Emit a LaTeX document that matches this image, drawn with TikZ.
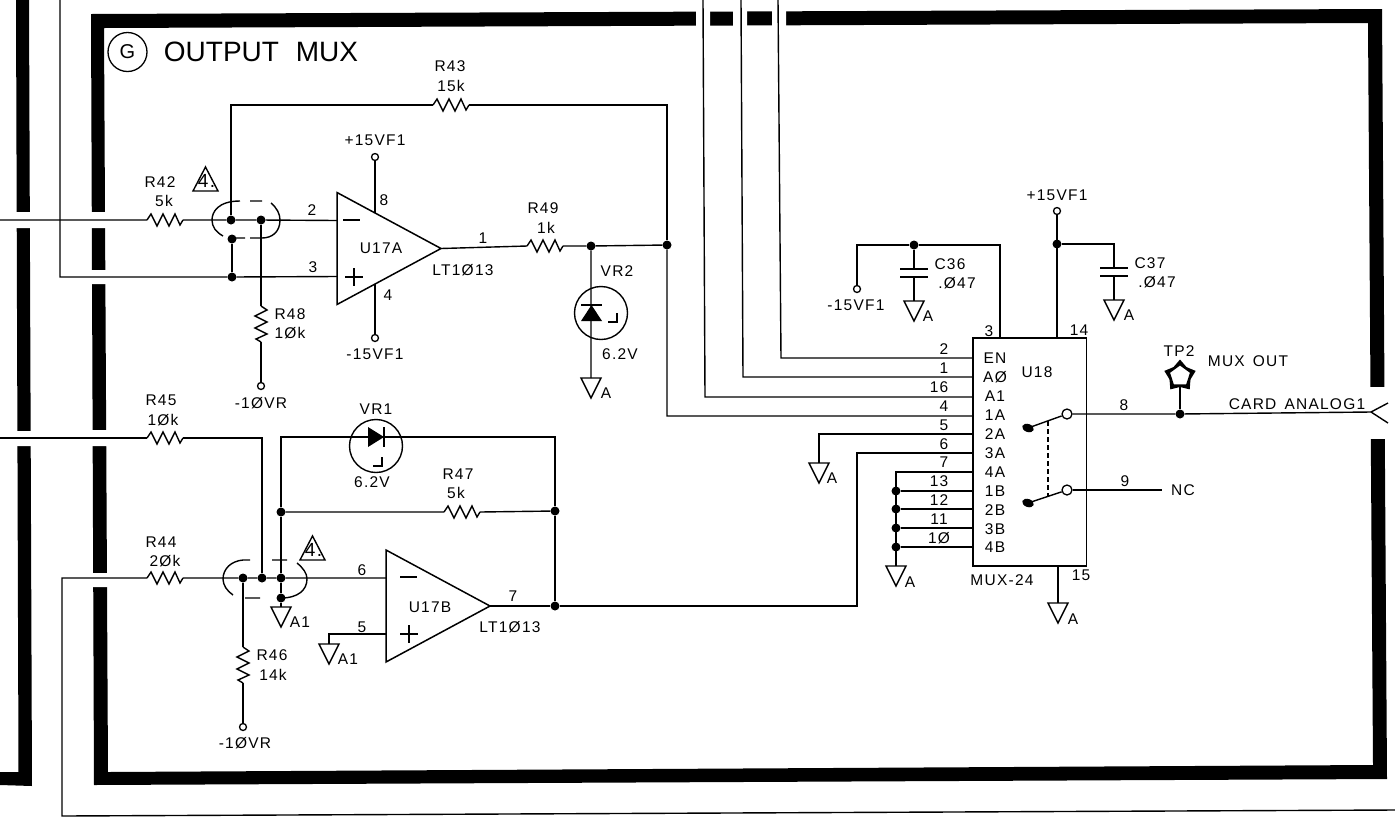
\documentclass[tikz,border=0pt]{standalone}
\usepackage{fontspec}
\setmainfont[LetterSpace=8]{Liberation Sans}
\newfontfamily\titlefont{Liberation Sans}
\usetikzlibrary{shapes.geometric}
\tikzset{
  wire/.style={line width=1.4pt,line join=miter},
  bar/.style={fill=black,draw=none},
  gap/.style={fill=white,draw=none},
  lbl/.style={inner sep=0pt,font=\fontsize{15.5}{17}\selectfont},
  dot/.style={circle,fill=black,draw=none,inner sep=0pt,minimum size=9pt},
  term/.style={circle,draw,line width=1.3pt,fill=white,inner sep=0pt,minimum size=7pt},
  zener/.style={circle,draw,line width=1.4pt,inner sep=0pt,minimum size=53pt},
  pics/res/.style={code={
    \draw[wire] (0,0) -- (4,-6) -- (10,6) -- (16,-6) -- (22,6) -- (28,-6) -- (33,5) -- (36,0);
    \coordinate (-l) at (0,0);
    \coordinate (-r) at (36,0);
  }},
  pics/gnd/.style={code={
    \draw[wire] (-10,0) -- (10,0) -- (0,20) -- cycle;
    \coordinate (-top) at (0,0);
  }},
  pics/opamp/.style={code={
    \draw[line width=1.5pt,line join=miter] (0,-56) -- (0,56) -- (104,0) -- cycle;
    \coordinate (-minus) at (0,-28);
    \coordinate (-plus) at (0,28);
    \coordinate (-out) at (104,0);
    \coordinate (-vp) at (38,-35.5);
    \coordinate (-vn) at (38,35.5);
  }},
  pics/note/.style={code={
    \draw[wire] (-12.5,24) -- (0,0) -- (12.5,24) -- cycle;
    \draw (1,14) node[inner sep=0pt,font=\fontsize{19}{20}\selectfont] (-num) {4.};
  }},
  pics/cap/.style={code={
    \draw[line width=1.8pt] (-14,0) -- (14,0) (-14,8) -- (14,8);
    \coordinate (-a) at (0,0);
    \coordinate (-b) at (0,8);
  }}
}
\begin{document}
\begin{tikzpicture}[x=1pt,y=-1pt]
\useasboundingbox (0,0) rectangle (1395,823);
\fill[bar] (16,0) -- (29,0) -- (32,786) -- (0,785) -- (0,772) -- (18.5,772) -- cycle;
\fill[bar,even odd rule] (91,14) -- (1382,9) -- (1387,779) -- (94,785) -- cycle (104,28) -- (1368,23) -- (1373,765) -- (108,772) -- cycle;
\fill[gap] (10,212) rectangle (36,228) (10,431) rectangle (36,446);
\fill[gap] (86,212) rectangle (112,228) (86,270) rectangle (112,284) (86,430) rectangle (112,446) (86,573) rectangle (112,587);
\fill[gap] (696,4) rectangle (710,34) (733,4) rectangle (747,34) (772,4) rectangle (786,34);
\fill[gap] (1362,387) rectangle (1392,439);
\draw (127.5,52) node[circle,draw,line width=1.3pt,inner sep=0pt,minimum size=39pt,font=\fontsize{20}{22}\selectfont] (tagG) {G};
\draw (261,52) node[inner sep=0pt,font=\titlefont\fontsize{28}{31}\selectfont] (title) {OUTPUT\hspace{9pt} MUX};
\coordinate (inA) at (0,220);
\coordinate (inB) at (0,438);
\coordinate (inC) at (60,0);
\coordinate (inCb) at (60,277);
\coordinate (fbD) at (62,816);
\coordinate (fbE) at (1395,810);
\pic (R42) at (147,220) {res};
\pic (R43) at (433,105) {res};
\pic (R49) at (527,246) {res};
\pic (R45) at (147,438) {res};
\pic (R44) at (147,578) {res};
\pic (R47) at (444,512) {res};
\pic[rotate=-90] (R48) at (261,306) {res};
\pic[rotate=-90] (R46) at (243,647) {res};
\pic (U17A) at (337,248.5) {opamp};
\pic (U17B) at (386,606) {opamp};
\draw[wire] (343,220) -- (360,220) (345,277) -- (363,277) (354,268) -- (354,286);
\draw[wire] (400,577) -- (417,577) (400,634) -- (418,634) (409,625) -- (409,643);
\pic (N1) at (205.5,167) {note};
\pic (N2) at (312.5,536) {note};
\node[dot] (J1) at (231,220) {};
\node[dot] (J2) at (261,220) {};
\node[dot] (J3) at (232,239) {};
\node[dot] (J4) at (232,277) {};
\node[dot] (J5) at (667,245) {};
\node[dot] (J6) at (591,246) {};
\node[dot] (J7) at (243,578) {};
\node[dot] (J8) at (262,578) {};
\node[dot] (J9) at (281,578) {};
\node[dot] (J10) at (281,598) {};
\node[dot] (J11) at (281,512) {};
\node[dot] (J12) at (555,511) {};
\node[dot] (J13) at (555,606) {};
\node[term] (VpA) at (375,157) {};
\node[term] (VnA) at (375,338) {};
\node[term] (VrA) at (261,386) {};
\node[term] (VrB) at (243,727) {};
\pic (G1) at (591,378) {gnd};
\pic (G2) at (281,607) {gnd};
\pic (G3) at (329,644) {gnd};
\draw[wire] (inC) -- (inCb) -- (J4) -- (U17A-plus);
\draw[wire] (inA) -- (R42-l) (R42-r) -- (J1) -- (J2) -- (U17A-minus);
\draw[wire] (J4) -- (J3) (J1) |- (R43-l) (R43-r) -| (J5);
\draw[wire] (U17A-vp) -- (VpA) (U17A-vn) -- (VnA);
\draw[wire] (J2) -- (R48-l) (R48-r) -- (VrA);
\draw[wire] (U17A-out) -- (R49-l) (R49-r) -- (J6) -- (J5) (J6) -- (G1-top);
\draw[wire] (240,201) .. controls (218,201) and (212,212) .. (212,220) .. controls (212,227) and (216,232) .. (223,236) (245,238) -- (232,238) (250,201) -- (262,201) (271,203) .. controls (277,208) and (280,214) .. (280,220) .. controls (280,232) and (272,238) .. (262,238) -- (250,238);
\draw[wire] (inB) -- (R45-l) (R45-r) -| (J8);
\coordinate (VRa) at (281,437);
\coordinate (VRb) at (555,437);
\draw[wire] (J9) -- (J11) -- (VRa) -- (VRb) -- (J12) -- (J13);
\draw[wire] (J11) -- (R47-l) (R47-r) -- (J12);
\draw[wire] (fbE) -- (fbD) |- (R44-l) (R44-r) -- (J7) -- (J8) -- (J9) -- (U17B-minus);
\draw[wire] (J7) -- (R46-l) (R46-r) -- (VrB) (J9) -- (J10) -- (G2-top);
\draw[wire] (U17B-plus) -| (G3-top);
\draw[wire] (U17B-out) -- (J13);
\draw[wire] (250,560) -- (243,560) .. controls (231,561) and (223,569) .. (223,579) .. controls (223,585) and (227,591) .. (233,595) (245,598) -- (260,598) (272,560) -- (287,560) (297,563) .. controls (303,568) and (307,573) .. (307,579) .. controls (307,590) and (298,598) .. (281,598);
\node[zener] (VR2) at (601,313) {};
\fill (591.5,305) -- (602,321) -- (581,321) -- cycle;
\draw[line width=1.8pt] (581,305) -- (602,305);
\draw[wire] (617,313) -- (617,322) -- (608,322);
\node[zener] (VR1) at (376,446) {};
\fill (384,437) -- (368,427) -- (368,447) -- cycle;
\draw[line width=1.8pt] (384,427) -- (384,447);
\draw[wire] (382,457) -- (382,466) -- (373,466);
\node[draw,line width=1.4pt,minimum width=113.5pt,minimum height=228pt,inner sep=0pt] (U18) at (1029.7,452) {};
\pic (GA) at (819,463) {gnd};
\pic (GB) at (896,566) {gnd};
\pic (GC) at (914,301) {gnd};
\pic (GD) at (1114,300) {gnd};
\pic (GE) at (1058,603) {gnd};
\pic (C36) at (914,269) {cap};
\pic (C37) at (1114,268) {cap};
\node[term] (Vn36) at (857,289) {};
\node[term] (Vp37) at (1057,211) {};
\node[dot] (J14) at (914,245) {};
\node[dot] (J15) at (1057,244) {};
\node[dot] (J16) at (896,491) {};
\node[dot] (J17) at (896,509) {};
\node[dot] (J18) at (896,528) {};
\node[dot] (J19) at (896,547) {};
\coordinate (En) at (973,358);
\coordinate (Az) at (973,377);
\coordinate (Ao) at (973,397);
\coordinate (Aa) at (973,416);
\coordinate (Ba) at (973,434);
\coordinate (Ca) at (973,453);
\coordinate (Da) at (973,472);
\coordinate (Eb) at (973,491);
\coordinate (Fb) at (973,509);
\coordinate (Gb) at (973,528);
\coordinate (Hb) at (973,547);
\coordinate (EnT) at (778,0);
\coordinate (AzT) at (741,0);
\coordinate (AoT) at (703,0);
\coordinate (EnC) at (781,358);
\coordinate (AzC) at (743,377);
\coordinate (AoC) at (705,397);
\coordinate (P3) at (1000,338);
\coordinate (P14) at (1057,338);
\coordinate (P15) at (1058,566);
\coordinate (CaC) at (857,453);
\draw[wire] (EnT) -- (EnC) -- (En) (AzT) -- (AzC) -- (Az) (AoT) -- (AoC) -- (Ao) (J5) |- (Aa);
\draw[wire] (Ba) -| (GA-top);
\draw[wire] (J13) -| (CaC) -- (Ca);
\draw[wire] (Da) -| (GB-top) (J16) -- (Eb) (J17) -- (Fb) (J18) -- (Gb) (J19) -- (Hb);
\draw[wire] (Vn36) |- (J14) -| (P3);
\draw[wire] (J14) -- (C36-a) (C36-b) -- (GC-top);
\draw[wire] (Vp37) -- (P14) (J15) -| (C37-a) (C37-b) -- (GD-top);
\draw[wire] (P15) -- (GE-top);
\node[term,minimum size=10pt] (SwA) at (1067,414) {};
\node[term,minimum size=10pt] (SwB) at (1067,490) {};
\node[dot] (J20) at (1180,414) {};
\coordinate (ArmA) at (1028,428);
\coordinate (ArmB) at (1028,503);
\coordinate (Tip) at (1371,412);
\coordinate (TipU) at (1388,403);
\coordinate (TipD) at (1388,423);
\coordinate (NCend) at (1162,490);
\coordinate (Lnk1) at (1048,421);
\coordinate (Lnk2) at (1048,497);
\node[star,star points=5,star point ratio=1.5,fill=black,draw=none,inner sep=0pt,minimum size=33pt] (TP2) at (1180,376) {};
\node[regular polygon,regular polygon sides=5,draw,fill=white,line width=2.5pt,inner sep=0pt,minimum size=24pt] (TP2in) at (1180,376) {};
\draw[wire] (SwA) -- (ArmA) (SwB) -- (ArmB);
\fill[rotate around={-20:(1028,428)}] (1028,428) ellipse (6 and 4);
\fill[rotate around={-20:(1028,503)}] (1028,503) ellipse (6 and 4);
\draw[wire,dash pattern=on 5pt off 3pt] (Lnk1) -- (Lnk2);
\draw[wire] (SwA) -- (J20) -- (Tip) -- (TipU) (Tip) -- (TipD);
\draw[wire] (SwB) -- (NCend);
\draw[wire] (J20) -- (TP2in);
\draw (160,182) node[lbl] (lR42) {R42};
\draw (164,201) node[lbl] (vR42) {5k};
\draw (450,66) node[lbl] (lR43) {R43};
\draw (451,86) node[lbl] (vR43) {15k};
\draw (543,208) node[lbl] (lR49) {R49};
\draw (546,228) node[lbl] (vR49) {1k};
\draw (290,314) node[lbl] (lR48) {R48};
\draw (290,333) node[lbl] (vR48) {1Øk};
\draw (161,400) node[lbl] (lR45) {R45};
\draw (163,420) node[lbl] (vR45) {1Øk};
\draw (161,542) node[lbl] (lR44) {R44};
\draw (165,561) node[lbl] (vR44) {2Øk};
\draw (272,655) node[lbl] (lR46) {R46};
\draw (273,675) node[lbl] (vR46) {14k};
\draw (458,474) node[lbl] (lR47) {R47};
\draw (456,493) node[lbl] (vR47) {5k};
\draw (375,140) node[lbl] (tVpA) {+15VF1};
\draw (375,354) node[lbl] (tVnA) {-15VF1};
\draw (261,403) node[lbl] (tVrA) {-1ØVR};
\draw (245,743) node[lbl] (tVrB) {-1ØVR};
\draw (381,248) node[lbl] (tU17A) {U17A};
\draw (430,607) node[lbl] (tU17B) {U17B};
\draw (463,270) node[lbl] (tLTa) {LT1Ø13};
\draw (510,627) node[lbl] (tLTb) {LT1Ø13};
\draw (384,200) node[lbl] (p8) {8};
\draw (388,295) node[lbl] (p4a) {4};
\draw (312,210) node[lbl] (p2a) {2};
\draw (313,267) node[lbl] (p3a) {3};
\draw (483,238) node[lbl] (p1a) {1};
\draw (362,570) node[lbl] (p6a) {6};
\draw (362,627) node[lbl] (p5a) {5};
\draw (513,596) node[lbl] (p7a) {7};
\draw (617,271) node[lbl] (tVR2) {VR2};
\draw (620,354) node[lbl] (vVR2) {6.2V};
\draw (606,393) node[lbl] (aG1) {A};
\draw (376,409) node[lbl] (tVR1) {VR1};
\draw (372,482) node[lbl] (vVR1) {6.2V};
\draw (300,622) node[lbl] (aG2) {A1};
\draw (348,659) node[lbl] (aG3) {A1};
\draw (856,305) node[lbl] (tVn36) {-15VF1};
\draw (950,264) node[lbl] (tC36) {C36};
\draw (957,283) node[lbl] (vC36) {.Ø47};
\draw (928,316) node[lbl] (aGC) {A};
\draw (1057,195) node[lbl] (tVp37) {+15VF1};
\draw (1150,263) node[lbl] (tC37) {C37};
\draw (1157,282) node[lbl] (vC37) {.Ø47};
\draw (1129,315) node[lbl] (aGD) {A};
\draw (832,478) node[lbl] (aGA) {A};
\draw (910,582) node[lbl] (aGB) {A};
\draw (1073,619) node[lbl] (aGE) {A};
\draw (989,331) node[lbl] (p3b) {3};
\draw (1079,330) node[lbl] (p14) {14};
\draw (1081,575) node[lbl] (p15) {15};
\draw (1002,580) node[lbl] (tMUX) {MUX-24};
\draw (944,349) node[lbl] (p2b) {2};
\draw (944,368) node[lbl] (p1b) {1};
\draw (939,387) node[lbl] (p16) {16};
\draw (944,406) node[lbl] (p4b) {4};
\draw (944,425) node[lbl] (p5b) {5};
\draw (944,444) node[lbl] (p6b) {6};
\draw (944,462) node[lbl] (p7b) {7};
\draw (939,481) node[lbl] (p13) {13};
\draw (939,500) node[lbl] (p12) {12};
\draw (939,519) node[lbl] (p11) {11};
\draw (939,538) node[lbl] (p10) {1Ø};
\draw (995,358) node[lbl] (nEN) {EN};
\draw (995,377) node[lbl] (nAz) {AØ};
\draw (995,396) node[lbl] (nAo) {A1};
\draw (995,415) node[lbl] (n1A) {1A};
\draw (995,434) node[lbl] (n2A) {2A};
\draw (995,453) node[lbl] (n3A) {3A};
\draw (995,472) node[lbl] (n4A) {4A};
\draw (995,491) node[lbl] (n1B) {1B};
\draw (995,510) node[lbl] (n2B) {2B};
\draw (995,529) node[lbl] (n3B) {3B};
\draw (995,547) node[lbl] (n4B) {4B};
\draw (1037,372) node[lbl] (tU18) {U18};
\draw (1124,405) node[lbl] (p8b) {8};
\draw (1125,481) node[lbl] (p9) {9};
\draw (1183,490) node[lbl] (tNC) {NC};
\draw (1179,351) node[lbl] (tTP2) {TP2};
\draw (1248,361) node[lbl] (tMO) {MUX\, OUT};
\draw (1297,404) node[lbl] (tCA) {CARD\, ANALOG1};
\end{tikzpicture}
\end{document}
